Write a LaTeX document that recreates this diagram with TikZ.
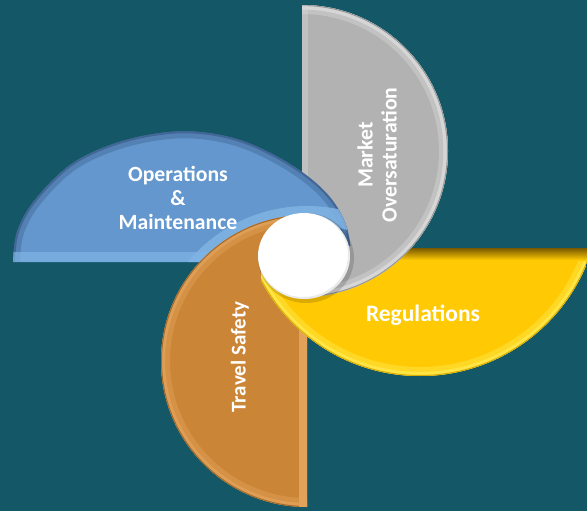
\documentclass[tikz,border=0pt]{standalone}
\usepackage{fontspec}
\setmainfont{Carlito}
\definecolor{bg}{RGB}{20,88,104}
\definecolor{grayc}{RGB}{178,178,178}
\definecolor{graylite}{RGB}{214,214,214}
\definecolor{bluec}{RGB}{99,151,205}
\definecolor{bluedark}{RGB}{52,80,125}
\definecolor{bluelite}{RGB}{128,180,228}
\definecolor{orangec}{RGB}{203,133,54}
\definecolor{orangelite}{RGB}{226,162,90}
\definecolor{yellowc}{RGB}{255,202,4}
\definecolor{yellowlite}{RGB}{255,230,70}
\definecolor{yellowdark}{RGB}{120,88,0}
\tikzset{
  lbl/.style={text=white, font=\bfseries\fontsize{21.7}{24}\selectfont, align=center, inner sep=0pt},
}
\begin{document}
\begin{tikzpicture}[x=1pt,y=-1pt]
\useasboundingbox (0,0) rectangle (587,511);
\fill[bg] (0,0) rectangle (587,511);

% ---------- gray blade (Market Oversaturation)
\def\grayblade{%
 \begin{scope}
  \clip (302,0) rectangle (600,330);
  \clip (302,151) circle[radius=146pt];
  \fill[grayc] (0,0) rectangle (600,600);
  \draw[graylite, line width=18pt, opacity=.45] (302,151) circle[radius=146pt];
  \draw[graylite, line width=9pt] (302,151) circle[radius=146pt];
  \draw[grayc!85!black, line width=2pt] (302,151) circle[radius=146pt];
  \draw[graylite, line width=12pt, opacity=.4] (302,0) -- (302,330);
 \end{scope}}
\grayblade

% ---------- blue blade (Operations & Maintenance)
\def\bluecurve{plot[smooth, tension=0.6] coordinates {(13,262) (17,232) (34,201) (70,165) (113,144) (160,133) (200,132) (240,140) (278,157) (310,178) (333,201) (347,228) (352,262)}}
\begin{scope}
  \clip \bluecurve -- cycle;
  \fill[bluec] (0,0) rectangle (600,600);
  \draw[bluedark, line width=14pt, opacity=.3] \bluecurve;
  \draw[bluedark, line width=4pt, opacity=.55] \bluecurve;
  \fill[bluelite, opacity=.7] (0,252) rectangle (400,262);
  \draw[bluelite, line width=18pt, opacity=.85] (307,361) circle[radius=146pt];
\end{scope}

% ---------- orange blade (Travel Safety)
\begin{scope}
  \clip (0,200) rectangle (307,520);
  \clip (307,361) circle[radius=146pt];
  \fill[orangec] (0,0) rectangle (600,600);
  \draw[orangelite, line width=18pt, opacity=.45] (307,361) circle[radius=146pt];
  \draw[orangelite, line width=8pt, opacity=.8] (307,361) circle[radius=146pt];
  \draw[orangec!80!black, line width=2pt] (307,361) circle[radius=146pt];
  \draw[orangelite, line width=16pt] (307,200) -- (307,520);
\end{scope}

% ---------- yellow blade (Regulations)
\begin{scope}
  \clip (261,248) rectangle (600,520);
  \clip (420,196) circle[radius=180pt];
  \fill[yellowc] (0,0) rectangle (600,600);
  \draw[yellowlite, line width=18pt, opacity=.5] (420,196) circle[radius=180pt];
  \draw[yellowlite, line width=8pt] (420,196) circle[radius=180pt];
  \draw[yellowc!85!black, line width=2pt] (420,196) circle[radius=180pt];
  \shade[top color=yellowdark, bottom color=yellowc] (261,248) rectangle (600,260);
\end{scope}

% ---------- gray again, over the yellow
\begin{scope}
  \clip (300,246) rectangle (600,330);
  \grayblade
\end{scope}

% ---------- hub
\fill[black, opacity=.15] (306,258) ellipse[x radius=48pt, y radius=45pt];
\fill[white] (304,256) ellipse[x radius=46pt, y radius=43pt];
\begin{scope}
  \clip (304,256) ellipse[x radius=46pt, y radius=43pt];
  \draw[black!20, line width=4pt, opacity=.4] (303,255) ellipse[x radius=47pt, y radius=44pt];
\end{scope}
\node (hub) at (304,256) {};

% ---------- labels
\node[lbl] (om) at (178,198) {Operations\\\&\\Maintenance};
\node[lbl, rotate=90] (mo) at (377,155) {Market\\Oversaturation};
\node[lbl, font=\bfseries\fontsize{23.5}{26}\selectfont] (rg) at (423,315) {Regulations};
\node[lbl, font=\bfseries\fontsize{21}{24}\selectfont, rotate=90] (ts) at (240,357) {Travel Safety};
\end{tikzpicture}
\end{document}
